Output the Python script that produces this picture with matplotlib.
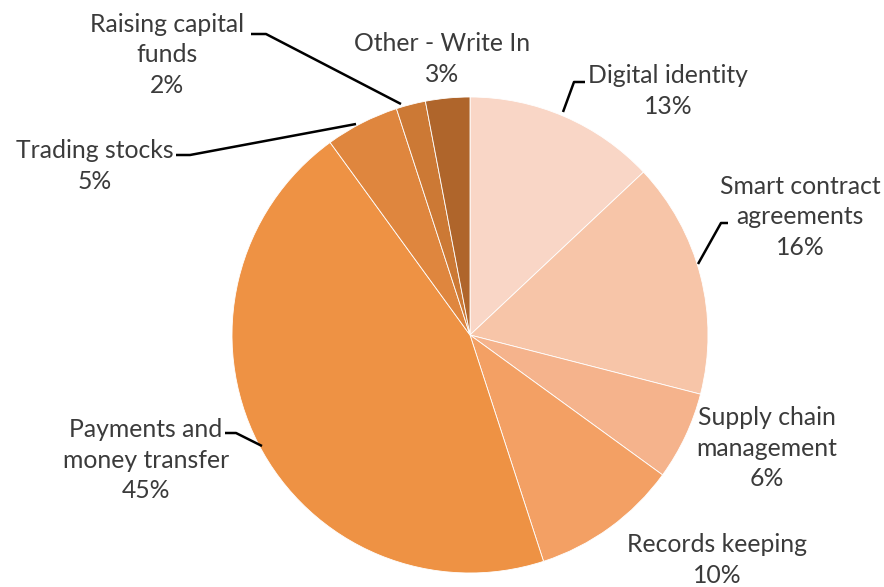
import matplotlib
matplotlib.use("Agg")
import matplotlib.pyplot as plt

categories = [
    "Digital identity",
    "Smart contract\nagreements",
    "Supply chain\nmanagement",
    "Records keeping",
    "Payments and\nmoney transfer",
    "Trading stocks",
    "Raising capital\nfunds",
    "Other - Write In",
]
shares = [13, 16, 6, 10, 45, 5, 2, 3]
colors = ["#F9D6C6", "#F7C5A8", "#F5B38C", "#F3A064", "#EE9244",
          "#DF863E", "#CC7935", "#AF652B"]

W, H = 884, 587
fig = plt.figure(figsize=(W / 100, H / 100), dpi=100)
ax = fig.add_axes([0, 0, 1, 1])


def P(x, y):
    """Pixel position (from top-left) to axes data coordinates."""
    return (x, H - y)


cx, cy = P(470, 335)
ax.pie(shares, colors=colors, startangle=90, counterclock=False,
       center=(cx, cy), radius=238,
       wedgeprops=dict(edgecolor="white", linewidth=0.6))
ax.set_xlim(0, W)
ax.set_ylim(0, H)
ax.set_aspect("equal")
ax.axis("off")

# label block centres (pixels) and optional leader-line paths
label_pos = [
    (668, 91), (800, 217), (767, 448), (717, 560),
    (146, 460), (95, 166), (167, 55), (442, 59),
]
leaders = {
    0: [(585, 82), (574, 82), (563, 112)],
    1: [(728, 223), (721, 223), (698, 264)],
    4: [(225, 433), (236, 433), (262, 446)],
    5: [(176, 155), (190, 155), (356, 124)],
    6: [(251, 34), (266, 34), (401, 104)],
}

font = dict(family=["Lato", "DejaVu Sans"], size=17.8, color="#3b3b3b")
for i, (name, val) in enumerate(zip(categories, shares)):
    x, y = P(*label_pos[i])
    ax.text(x, y, f"{name}\n{val}%", ha="center", va="center",
            linespacing=1.42, **font)
    if i in leaders:
        pts = [P(*p) for p in leaders[i]]
        ax.plot([p[0] for p in pts], [p[1] for p in pts],
                color="black", lw=1.8, solid_capstyle="butt")

fig.savefig("out.png", dpi=100)
